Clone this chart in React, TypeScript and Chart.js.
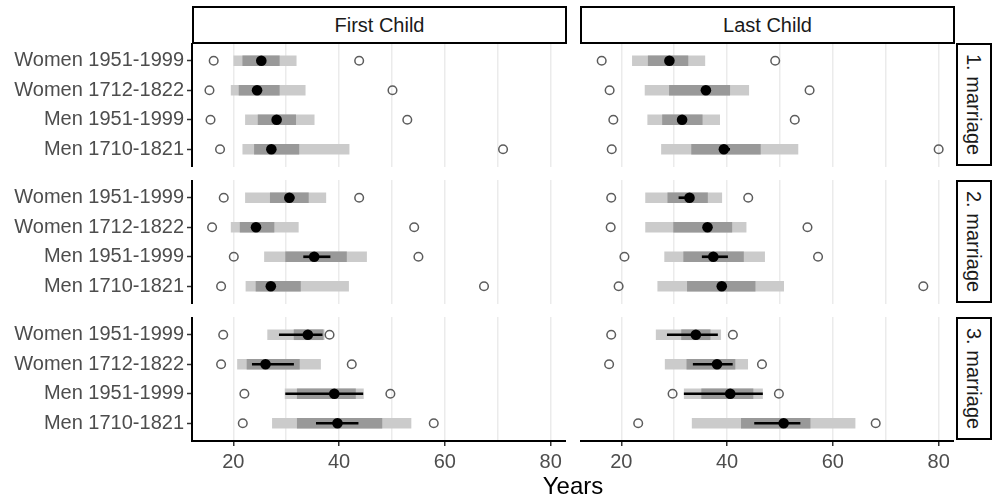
import React, { useEffect, useRef } from "react";
import { Chart, registerables } from "chart.js";
Chart.register(...registerables);
Chart.defaults.font.family = "'Liberation Sans', Arial, Helvetica, sans-serif";

const groups = ["Women 1951-1999", "Women 1712-1822", "Men 1951-1999", "Men 1710-1821"];
const childColumns = ["First Child", "Last Child"];
const marriageRows = ["1. marriage", "2. marriage", "3. marriage"];
const xTicks = [20, 30, 40, 50, 60, 70, 80];
const xLabeled = [20, 40, 60, 80];
const axisTitle = "Years";

// indexed [marriage row][child column][group]
const minAge = [
  [[16.3, 15.5, 15.7, 17.5], [16.3, 17.8, 18.5, 18.2]],
  [[18.2, 16.0, 20.1, 17.7], [18.1, 18.0, 20.6, 19.5]],
  [[18.1, 17.7, 22.1, 21.8], [18.1, 17.7, 29.7, 23.2]],
];
const q10 = [
  [[20.1, 19.6, 22.3, 21.8], [22.1, 24.5, 25.0, 27.6]],
  [[22.3, 19.6, 25.9, 22.4], [24.6, 24.6, 28.2, 26.9]],
  [[26.5, 20.8, 29.8, 27.4], [26.6, 28.3, 31.9, 33.4]],
];
const q25 = [
  [[21.8, 21.1, 24.7, 24.0], [25.1, 29.1, 27.8, 33.3]],
  [[27.0, 21.3, 29.9, 24.3], [28.8, 29.9, 31.8, 32.5]],
  [[31.5, 22.6, 32.1, 32.1], [31.4, 32.4, 35.2, 42.7]],
];
const ciLow = [
  [[24.7, 23.9, 27.6, 26.5], [28.5, 35.3, 30.9, 38.6]],
  [[29.9, 23.6, 33.3, 26.4], [30.9, 35.6, 35.3, 38.3]],
  [[28.7, 23.6, 29.9, 35.7], [28.7, 33.6, 31.9, 45.2]],
];
const median = [
  [[25.3, 24.5, 28.2, 27.2], [29.1, 36.0, 31.5, 39.4]],
  [[30.6, 24.3, 35.3, 27.1], [32.9, 36.3, 37.4, 39.0]],
  [[34.1, 26.1, 39.1, 39.7], [34.1, 38.1, 40.6, 50.7]],
];
const ciHigh = [
  [[25.9, 25.1, 28.8, 27.9], [29.7, 36.7, 32.1, 40.5]],
  [[31.5, 25.0, 38.3, 27.8], [33.4, 37.0, 40.1, 39.7]],
  [[36.8, 31.4, 44.5, 43.6], [38.2, 41.0, 46.7, 53.8]],
];
const q75 = [
  [[28.7, 28.7, 31.8, 32.4], [32.6, 40.5, 35.3, 46.3]],
  [[34.2, 27.7, 41.4, 32.7], [36.3, 40.9, 43.1, 45.3]],
  [[37.0, 32.5, 43.1, 48.1], [36.8, 41.5, 44.9, 55.7]],
];
const q90 = [
  [[31.9, 33.6, 35.3, 41.9], [35.8, 44.1, 38.6, 53.4]],
  [[37.5, 32.3, 45.2, 41.8], [39.0, 43.6, 47.1, 50.7]],
  [[37.2, 36.5, 44.6, 53.6], [38.8, 43.9, 46.7, 64.2]],
];
const maxAge = [
  [[43.8, 50.1, 52.9, 71.0], [49.1, 55.6, 52.8, 80.0]],
  [[43.8, 54.2, 55.0, 67.4], [44.0, 55.2, 57.2, 77.1]],
  [[38.2, 42.4, 49.7, 57.9], [41.1, 46.6, 49.8, 68.1]],
];

const PANEL_LEFT = [192, 580];
const PANEL_W = 374;
const PANEL_TOP = [43, 180, 317];
const PANEL_H = 124;
const X_AXIS_H = 58;
const FONT = "'Liberation Sans', Arial, Helvetica, sans-serif";
const TEXT_SIZE = 20;

function Panel({ row, col }: { row: number; col: number }) {
  const ref = useRef<HTMLCanvasElement>(null);
  const isLeft = col === 0;
  const isBottom = row === 2;
  const canvasLeft = isLeft ? 0 : PANEL_LEFT[col];
  const width = isLeft ? PANEL_LEFT[0] + PANEL_W : PANEL_W;
  const height = PANEL_H + (isBottom ? X_AXIS_H : 0);

  useEffect(() => {
    const idx = groups.map((_, i) => i);
    const rng = (lo: number[], hi: number[]) => idx.map((i) => ({ y: i, x: [lo[i], hi[i]] }));
    const pts = (v: number[]) => idx.map((i) => ({ y: i, x: v[i] }));
    const chart = new Chart(ref.current as HTMLCanvasElement, {
      type: "bar",
      data: {
        datasets: [
          {
            type: "bar", indexAxis: "y", data: rng(q10[row][col], q90[row][col]) as any,
            backgroundColor: "#cbcbcb", barThickness: 10, grouped: false, order: 5,
          } as any,
          {
            type: "bar", indexAxis: "y", data: rng(q25[row][col], q75[row][col]) as any,
            backgroundColor: "#999999", barThickness: 10, grouped: false, order: 4,
          } as any,
          {
            type: "bar", indexAxis: "y", data: rng(ciLow[row][col], ciHigh[row][col]) as any,
            backgroundColor: "#000000", barThickness: 2, grouped: false, order: 3,
          } as any,
          {
            type: "line", indexAxis: "y", data: pts(minAge[row][col]) as any, showLine: false,
            pointRadius: 4.3, pointBorderWidth: 1.5, pointBorderColor: "#5c5c5c",
            pointBackgroundColor: "rgba(0,0,0,0)", order: 2,
          } as any,
          {
            type: "line", indexAxis: "y", data: pts(maxAge[row][col]) as any, showLine: false,
            pointRadius: 4.3, pointBorderWidth: 1.5, pointBorderColor: "#5c5c5c",
            pointBackgroundColor: "rgba(0,0,0,0)", order: 2,
          } as any,
          {
            type: "line", indexAxis: "y", data: pts(median[row][col]) as any, showLine: false,
            pointRadius: 5.3, pointBorderWidth: 0, pointBackgroundColor: "#000000",
            pointBorderColor: "#000000", order: 1,
          } as any,
        ],
      },
      options: {
        responsive: false,
        animation: false,
        indexAxis: "y",
        events: [],
        layout: { padding: 0, autoPadding: false },
        plugins: { legend: { display: false }, tooltip: { enabled: false } },
        scales: {
          x: {
            type: "linear",
            position: "bottom",
            offset: false,
            beginAtZero: false,
            min: 12.2,
            max: 82.9,
            afterBuildTicks: (s: any) => { s.ticks = xTicks.map((v) => ({ value: v })); },
            afterFit: (s: any) => {
              s.height = isBottom ? X_AXIS_H : 0;
              s.paddingLeft = 0; s.paddingRight = 0; s.paddingTop = 0; s.paddingBottom = 0;
            },
            grid: {
              display: true,
              offset: false,
              drawOnChartArea: true,
              drawTicks: isBottom,
              color: "#ebebeb",
              lineWidth: 1.5,
              tickLength: 5,
              tickWidth: 1.5,
              tickColor: (ctx: any) =>
                ctx.tick && xLabeled.includes(ctx.tick.value) ? "#333333" : "rgba(0,0,0,0)",
            },
            border: { display: isBottom, color: "#000000", width: 2 },
            ticks: {
              display: isBottom,
              autoSkip: false,
              maxRotation: 0,
              padding: 4,
              color: "#4d4d4d",
              font: { size: TEXT_SIZE, family: FONT },
              callback: (v: any) => (xLabeled.includes(Number(v)) ? String(v) : ""),
            },
          },
          y: {
            type: "linear",
            display: isLeft,
            offset: false,
            reverse: true,
            min: -0.6,
            max: 3.6,
            afterBuildTicks: (s: any) => { s.ticks = idx.map((v) => ({ value: v })); },
            afterFit: (s: any) => {
              s.width = isLeft ? PANEL_LEFT[0] : 0;
              s.paddingLeft = 0; s.paddingRight = 0; s.paddingTop = 0; s.paddingBottom = 0;
            },
            grid: {
              display: true,
              offset: false,
              drawOnChartArea: false,
              drawTicks: true,
              tickLength: 5,
              tickWidth: 1.5,
              tickColor: "#333333",
            },
            border: { display: true, color: "#000000", width: 2 },
            ticks: {
              autoSkip: false,
              padding: 3,
              color: "#4d4d4d",
              font: { size: TEXT_SIZE, family: FONT },
              callback: (v: any) => groups[Number(v)] ?? "",
            },
          },
        },
      } as any,
    });
    return () => chart.destroy();
  }, [row, col]);

  return (
    <canvas
      ref={ref}
      width={width}
      height={height}
      style={{ position: "absolute", left: canvasLeft, top: PANEL_TOP[row], width, height, display: "block" }}
    />
  );
}

const stripBox: React.CSSProperties = {
  position: "absolute",
  boxSizing: "border-box",
  border: "2px solid #000",
  background: "#fff",
  display: "flex",
  alignItems: "center",
  justifyContent: "center",
  fontFamily: FONT,
  fontSize: TEXT_SIZE,
  color: "#1a1a1a",
  lineHeight: 1,
};

export default function App() {
  return (
    <div style={{ position: "absolute", left: 0, top: 0, width: 993, height: 499, overflow: "hidden", background: "#fff" }}>
      {marriageRows.map((_, r) =>
        childColumns.map((__, c) => <Panel key={`${r}-${c}`} row={r} col={c} />)
      )}
      {childColumns.map((name, c) => (
        <div key={name} style={{ ...stripBox, left: PANEL_LEFT[c], top: 6, width: PANEL_W + 1, height: 38 }}>
          {name}
        </div>
      ))}
      {marriageRows.map((name, r) => (
        <div key={name} style={{ ...stripBox, left: 956, top: PANEL_TOP[r], width: 36, height: PANEL_H - 1 }}>
          <span style={{ writingMode: "vertical-rl" }}>{name}</span>
        </div>
      ))}
      <div
        style={{
          position: "absolute", left: 473, top: 474, width: 200, textAlign: "center",
          fontFamily: FONT, fontSize: 24, lineHeight: 1, color: "#000",
        }}
      >
        {axisTitle}
      </div>
    </div>
  );
}
